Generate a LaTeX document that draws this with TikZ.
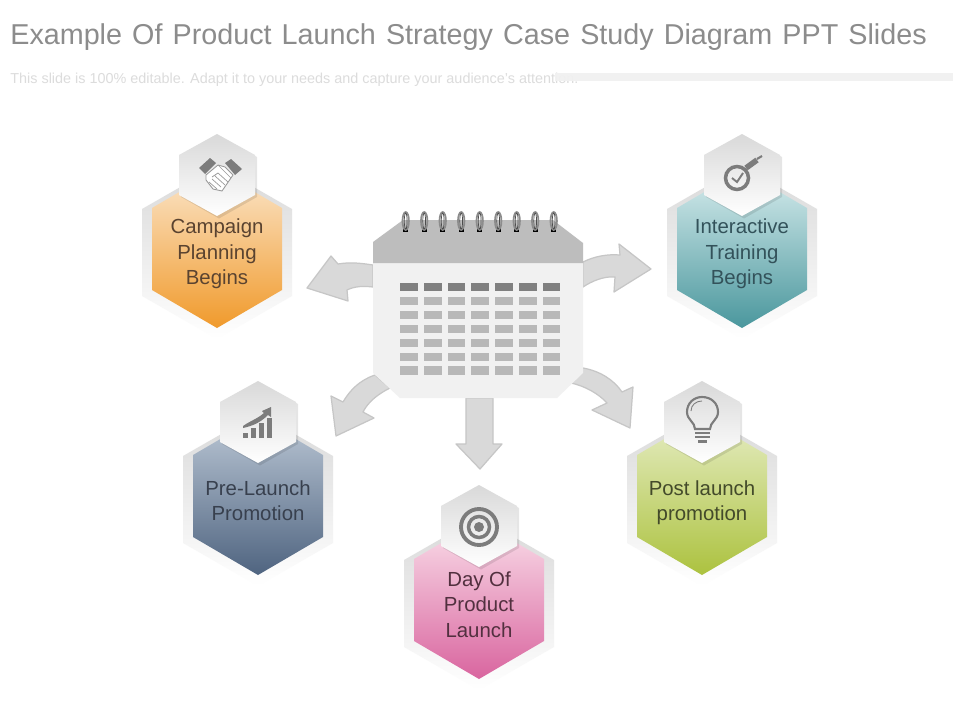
\documentclass[tikz,border=0pt]{standalone}
\usepackage{fontspec}
\setmainfont{Liberation Sans}
\definecolor{titlegrey}{HTML}{8C8C8C}
\definecolor{subgrey}{HTML}{DCDCDC}
\definecolor{bandgrey}{HTML}{F1F1F1}
\definecolor{arrowgrey}{HTML}{D9D9D9}
\definecolor{arrowedge}{HTML}{C6C6C6}
\definecolor{icongrey}{HTML}{7C7C7C}
\definecolor{campT}{HTML}{FBE6CB}\definecolor{campB}{HTML}{F09A2C}\definecolor{campX}{HTML}{5A4330}
\definecolor{inteT}{HTML}{D8EDEE}\definecolor{inteB}{HTML}{4A979D}\definecolor{inteX}{HTML}{33525A}
\definecolor{preT}{HTML}{BCC8D6}\definecolor{preB}{HTML}{4F6480}\definecolor{preX}{HTML}{38404E}
\definecolor{dayT}{HTML}{FADFEA}\definecolor{dayB}{HTML}{D9659F}\definecolor{dayX}{HTML}{52303F}
\definecolor{postT}{HTML}{E6EDC4}\definecolor{postB}{HTML}{ACC23F}\definecolor{postX}{HTML}{434A2A}
\tikzset{
  blockarrow/.style={fill=arrowgrey,draw=arrowedge,line width=0.7pt,line join=round},
  hexlabel/.style={align=center,font=\fontsize{11.6}{14.5}\selectfont},
  iconfill/.style={fill=icongrey}
}
\begin{document}
\begin{tikzpicture}[x=0.02cm,y=-0.02cm]
  \useasboundingbox (0,0) rectangle (960,720);
  \fill[white] (0,0) rectangle (960,720);
  % heading
  \node (heading) [anchor=west,inner sep=0pt,text=titlegrey,font=\fontsize{16.35}{20}\selectfont] at (10,37.5)
    {\spaceskip=5.75pt\relax Example Of Product Launch Strategy Case Study Diagram PPT Slides};
  \node (subheading) [anchor=west,inner sep=0pt,text=subgrey,font=\fontsize{8.2}{10}\selectfont] at (10,79.5)
    {This slide is 100\% editable. Adapt it to your needs and capture your audience's attention.};
  \fill[bandgrey,opacity=.93] (555,73) rectangle (953,81);
  % hexagons
  \foreach \cx/\dy/\topc/\botc in {217/0/campT/campB,742/0/inteT/inteB,258/247/preT/preB,702/247/postT/postB,479/351/dayT/dayB} {
    \begin{scope}[shift={(\cx,\dy)}]
      \path[top color=black!15,bottom color=white] (0,166) -- (75,209) -- (75,296) -- (0,339) -- (-75,296) -- (-75,209) -- cycle;
      \path[top color=\topc,bottom color=\botc] (0,170) -- (65,208) -- (65,290) -- (0,328) -- (-65,290) -- (-65,208) -- cycle;
      \fill[black,opacity=.1] (2,137) -- (40,157) -- (40,197) -- (2,218.5) -- (-36,197) -- (-36,157) -- cycle;
      \path[top color=black!15,bottom color=white] (0,134) -- (38,155) -- (38,195) -- (0,216) -- (-38,195) -- (-38,155) -- cycle;
    \end{scope}
  }
  % labels
  \node (campaign) [hexlabel,text=campX] at (217,254) {Campaign\\Planning\\Begins};
  \node (training) [hexlabel,text=inteX] at (742,254) {Interactive\\Training\\Begins};
  \node (prelaunch) [hexlabel,text=preX] at (258,500.5) {Pre-Launch\\Promotion};
  \node (postlaunch) [hexlabel,text=postX] at (702,502.5) {Post launch\\promotion};
  \node (launchday) [hexlabel,text=dayX] at (479,604.5) {Day Of\\Product\\Launch};
  % block arrows
  \draw[blockarrow] (373,265) .. controls (360,263) and (350,262) .. (338,264) -- (331,256) -- (307,288) -- (348,301) -- (347,290) .. controls (355,286) and (364,286) .. (373,287) -- cycle;
  \draw[blockarrow] (583,262) .. controls (595,256) and (608,254) .. (620,255) -- (619,244) -- (651,269) -- (614,292) -- (615,277) .. controls (604,276) and (592,281) .. (583,287) -- cycle;
  \draw[blockarrow] (375,375) .. controls (360,380) and (350,390) .. (343,402) -- (331,396) -- (336,436) -- (374,418) -- (363,412) .. controls (368,402) and (378,394) .. (390,388) -- cycle;
  \draw[blockarrow] (583,368) .. controls (600,371) and (614,380) .. (622,392) -- (633,387) -- (630,428) -- (592,410) -- (607,403) .. controls (599,394) and (585,386) .. (571,383) -- cycle;
  \draw[blockarrow] (466,398) -- (466,444) -- (456,444) -- (480,469) -- (502,444) -- (493,444) -- (493,398) -- cycle;
  % calendar
  \fill[bandgrey] (373,263) -- (583,263) -- (583,373) -- (557,398) -- (400,398) -- (373,373) -- cycle;
  \fill[black!26] (373,263) -- (373,242) -- (403,220) -- (553,220) -- (583,243) -- (583,263) -- cycle;
  \foreach \i in {0,...,8} {
    \fill[black] (403.2+18.5*\i,228) rectangle (408.2+18.5*\i,232);
    \draw[black!45,line width=1pt] (405.7+18.5*\i,221) circle[x radius=3.2,y radius=9];
    \draw[black!70,line width=.4pt] (405.7+18.5*\i,221) circle[x radius=1.4,y radius=8];
  }
  \foreach \c in {0,...,6} {
    \fill[black!50] (400.3+23.7*\c,283) rectangle (418+23.7*\c,291.3);
    \foreach \r in {1,...,6}
      \fill[black!28] (400.3+23.7*\c,283+13.9*\r) rectangle (418+23.7*\c,291.3+13.9*\r);
  }
  % handshake
  \draw[draw=black!40,line width=.5pt,fill=white,line join=round] (206,175) -- (218,165) -- (225,167) -- (233,175) -- (222,191) -- (213,189) -- (206,180) -- cycle;
  \draw[draw=black!40,line width=.4pt] (209,182) -- (217,189) (212,179) -- (221,187) (215,176) -- (225,185) (218,173) -- (228,182) (218,173) -- (212,177) (218,165) -- (224,171) -- (231,178);
  \fill[iconfill] (199,168) -- (210,158) -- (216,163) -- (205,174) -- cycle;
  \fill[iconfill] (225,163) -- (231,159) -- (242,169) -- (235,175) -- cycle;
  % magnifier
  \draw[draw=icongrey,line width=2pt] (737,178) circle[radius=11.5];
  \draw[draw=icongrey,line width=3.2pt] (746,168) -- (757,160);
  \draw[draw=icongrey,line width=1.2pt] (757,159) -- (762,156);
  \draw[draw=icongrey,line width=1.1pt] (732,178) -- (737,182) -- (743,173);
  % chart
  \fill[iconfill] (243,433) rectangle (248,438);
  \foreach \bx/\by in {251/428,259/423,267/418} {
    \fill[iconfill] (\bx,\by) rectangle (\bx+5,438);
  }
  \fill[iconfill] (243,426) .. controls (250,421) and (257,419) .. (264,413) -- (262,411) -- (271,407) -- (271,417) -- (268,415) .. controls (260,423) and (252,426) .. (243,428) -- cycle;
  % target
  \draw[draw=icongrey,line width=2.2pt] (479,527) circle[radius=18];
  \draw[draw=icongrey,line width=2pt] (479,527) circle[radius=10.5];
  \fill[iconfill] (479,527) circle[radius=5];
  % bulb
  \draw[draw=icongrey,line width=1.2pt] (695,429) .. controls (695,422) and (687,420) .. (687,412) .. controls (687,403) and (694,397) .. (702,397) .. controls (711,397) and (718,403) .. (718,412) .. controls (718,420) and (710,422) .. (710,429) -- cycle;
  \draw[draw=icongrey,line width=.5pt] (691,411) .. controls (691,405) and (696,401) .. (702,401);
  \draw[draw=icongrey,line width=1.2pt] (695,433) -- (710,433) (695,437) -- (710,437);
  \fill[iconfill] (698,440) rectangle (707,443);
\end{tikzpicture}
\end{document}
